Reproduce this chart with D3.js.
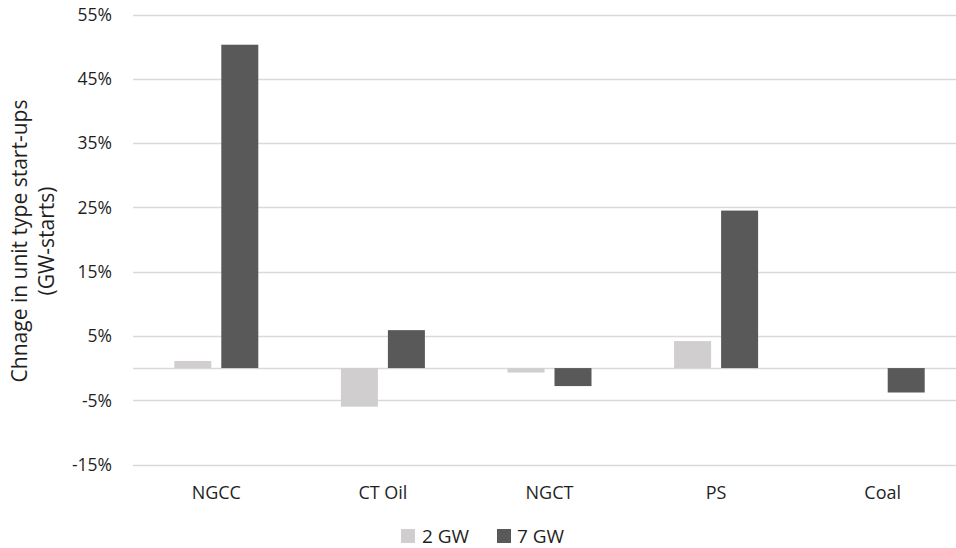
<!DOCTYPE html>
<html><head><meta charset="utf-8">
<script src="https://cdn.jsdelivr.net/npm/d3@7"></script>
<style>body{margin:0;background:#fff;} svg{display:block;font-family:"Open Sans","Liberation Sans",sans-serif;}</style>
</head><body>
<svg id="c" width="956" height="548"></svg>
<script>
const categories = ["NGCC", "CT Oil", "NGCT", "PS", "Coal"];
const seriesNames = ["2 GW", "7 GW"];
const values2GW = [1.1, -6.0, -0.7, 4.2, 0];
const values7GW = [50.3, 5.9, -2.8, 24.5, -3.8];
const yTicks = [-15, -5, 5, 15, 25, 35, 45, 55];
const colors = ["#d0cece", "#595959"];

const svg = d3.select("#c");
const x0 = d3.scaleBand().domain(categories).range([133, 966]).paddingInner(0).paddingOuter(0);
const y = d3.scaleLinear().domain([-15, 55]).range([464.5, 14.5]);
const barW = 37, gap = 10;

// gridlines
svg.append("g").selectAll("line").data(yTicks.concat([0])).join("line")
  .attr("x1", 133).attr("x2", 956)
  .attr("y1", d => Math.round(y(d)) + 0.5).attr("y2", d => Math.round(y(d)) + 0.5)
  .attr("stroke", "#d9d9d9").attr("stroke-width", 1.3);

// y tick labels
svg.append("g").selectAll("text").data(yTicks).join("text")
  .attr("x", 112).attr("y", d => y(d)).attr("dy", "0.36em")
  .attr("text-anchor", "end").attr("font-size", 17.5).attr("fill", "#1f1f1f")
  .text(d => d + "%");

// bars
const series = [values2GW, values7GW];
series.forEach((vals, si) => {
  svg.append("g").selectAll("rect").data(vals.map((v, i) => ({v, c: categories[i]}))).join("rect")
    .attr("x", d => x0(d.c) + x0.bandwidth() / 2 - (barW + gap / 2) + si * (barW + gap))
    .attr("width", barW)
    .attr("y", d => Math.min(y(d.v), y(0)))
    .attr("height", d => Math.abs(y(d.v) - y(0)))
    .attr("fill", colors[si]);
});

// category labels
svg.append("g").selectAll("text").data(categories).join("text")
  .attr("x", d => x0(d) + x0.bandwidth() / 2).attr("y", 499)
  .attr("text-anchor", "middle").attr("font-size", 18).attr("fill", "#1f1f1f")
  .text(d => d);

// y axis title
const t = svg.append("text").attr("transform", "translate(0,241) rotate(-90)")
  .attr("text-anchor", "middle").attr("font-size", 21).attr("fill", "#1f1f1f");
t.append("tspan").attr("x", 0).attr("y", 27).text("Chnage in unit type start-ups");
t.append("tspan").attr("x", 0).attr("y", 54).text("(GW-starts)");

// legend
const leg = [{x: 401, tx: 422}, {x: 497, tx: 517}];
seriesNames.forEach((n, i) => {
  svg.append("rect").attr("x", leg[i].x).attr("y", 529).attr("width", 14).attr("height", 14).attr("fill", colors[i]);
  svg.append("text").attr("x", leg[i].tx).attr("y", 536).attr("dy", "0.35em").attr("font-size", 19).attr("fill", "#1f1f1f").text(n);
});
</script>
</body></html>
